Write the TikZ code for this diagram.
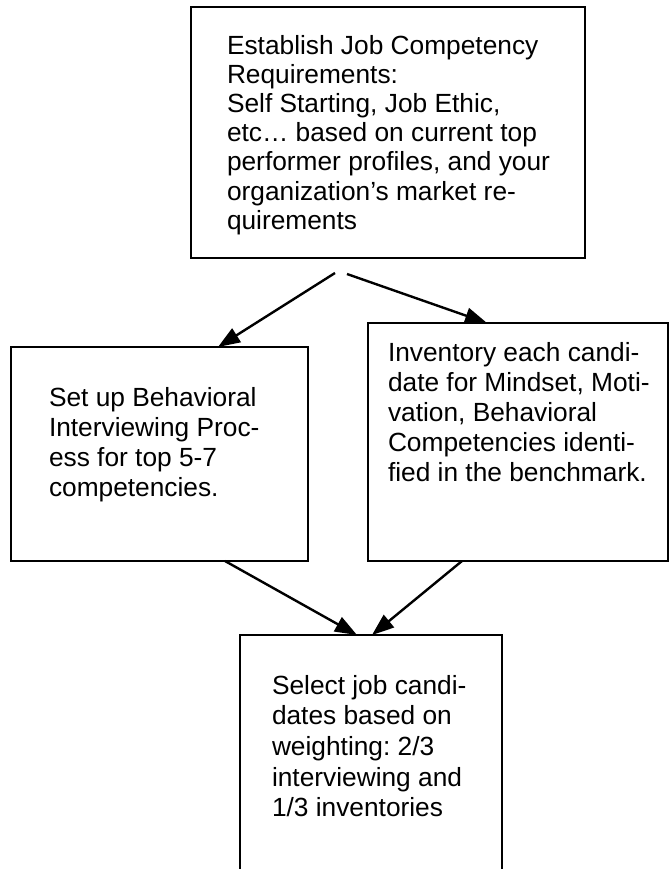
\documentclass[tikz,border=0pt]{standalone}
\usepackage{fontspec}
\setmainfont{Liberation Sans}
\usetikzlibrary{arrows.meta}

\tikzset{
  box/.style={draw, line width=2.8pt, inner sep=0pt, outer sep=0pt, anchor=north west},
  boxtext/.style={inner sep=0pt, outer sep=0pt, anchor=north west, align=left,
    font=\fontsize{26.3}{30}\selectfont\frenchspacing},
  link/.style={line width=2.4pt, -{Triangle[length=22pt,width=16pt]}},
}
% first-line strut of fixed height, so the text top sits 20pt above the baseline
\newcommand{\firstline}{\rule{0pt}{20pt}}

\begin{document}
\begin{tikzpicture}[x=1pt, y=-1pt]
  \useasboundingbox (0,0) rectangle (670,869);
  \clip (0,0) rectangle (670,869);

  % boxes
  \node[box, minimum width=394pt, minimum height=251pt] (req) at (191,7) {};
  \node[box, minimum width=297pt, minimum height=214pt] (setup) at (11,347) {};
  \node[box, minimum width=300pt, minimum height=238pt] (inv) at (368,323) {};
  \node[box, minimum width=262pt, minimum height=260pt] (sel) at (240,635) {};

  % box texts
  \node[boxtext, font=\fontsize{26.3}{29.2}\selectfont\frenchspacing] (reqtext) at (227,34) {\firstline Establish Job Competency\\
    Requirements:\\
    Self Starting, Job Ethic,\\
    etc… based on current top\\
    performer profiles, and your\\
    organization’s market re-\\
    quirements};
  \node[boxtext] (setuptext) at (49,386) {\firstline Set up Behavioral\\
    Interviewing Proc-\\
    ess for top 5-7\\
    competencies.};
  \node[boxtext] (invtext) at (388,341) {\firstline Inventory each candi-\\
    date for Mindset, Moti-\\
    vation, Behavioral\\
    Competencies identi-\\
    fied in the benchmark.};
  \node[boxtext, font=\fontsize{26.3}{30.7}\selectfont\frenchspacing] (seltext) at (272,674) {\firstline Select job candi-\\
    dates based on\\
    weighting: 2/3\\
    interviewing and\\
    1/3 inventories};

  % connectors
  \coordinate (splitL) at (335,273);
  \coordinate (splitR) at (347,274);
  \draw[link] (splitL) -- ([xshift=207pt]setup.north west);
  \draw[link] (splitR) -- ([xshift=119pt]inv.north west);
  \draw[link] ([xshift=214pt]setup.south west) -- ([xshift=117pt]sel.north west);
  \draw[link] ([xshift=94pt]inv.south west) -- ([xshift=132pt]sel.north west);
\end{tikzpicture}
\end{document}
